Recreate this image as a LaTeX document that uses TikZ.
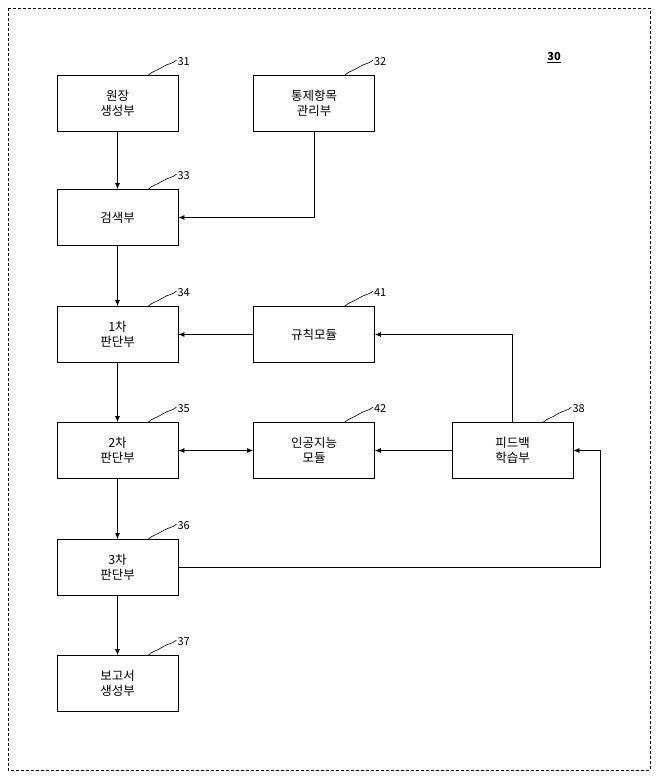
\documentclass[tikz,border=0pt]{standalone}
\usepackage{fontspec}
\setmainfont{Noto Sans CJK KR}
\usetikzlibrary{arrows.meta}
\begin{document}
\begin{tikzpicture}[x=1pt,y=-1pt,
  box/.style={draw,line width=0.8pt,minimum width=121pt,minimum height=56pt,align=center,font=\fontsize{12.5}{15}\selectfont,inner sep=0pt},
  arr/.style={-{Latex[length=6pt,width=5pt]},line width=0.8pt},
  darr/.style={{Latex[length=6pt,width=5pt]}-{Latex[length=6pt,width=5pt]},line width=0.8pt},
  num/.style={font=\fontsize{11}{13}\selectfont,anchor=west,inner sep=1pt}]
\useasboundingbox (0,0) rectangle (658,777);
\draw[dash pattern=on 3pt off 2pt,line width=0.6pt] (8,8) rectangle (650,770);
\node (b31) at (117.5,103.5) [box] {원장\\생성부};
\node (b32) at (314,103.5) [box] {통제항목\\관리부};
\node (b33) at (117.5,217.5) [box] {검색부};
\node (b34) at (117.5,334.5) [box] {1차\\판단부};
\node (b41) at (314,334.5) [box] {규칙모듈};
\node (b35) at (117.5,450.5) [box] {2차\\판단부};
\node (b42) at (314,450.5) [box] {인공지능\\모듈};
\node (b38) at (512.5,450.5) [box] {피드백\\학습부};
\node (b36) at (117.5,567.5) [box] {3차\\판단부};
\node (b37) at (117.5,683.5) [box] {보고서\\생성부};
\node[font=\bfseries\fontsize{11}{13}\selectfont,inner sep=1pt] (t30) at (554,58) {\underline{30}};
\foreach \b/\n in {b31/31,b32/32,b33/33,b34/34,b41/41,b35/35,b42/42,b38/38,b36/36,b37/37}{
  \coordinate (s\n) at ([xshift=-30pt]\b.north east);
  \draw[line width=0.6pt] (s\n) .. controls ++(4,-4) and ++(-6,4) .. ++(14,-8) .. controls ++(6,-4) and ++(-4,4) .. ++(14,-7) coordinate (e\n);
  \node[num] (n\n) at ([yshift=-1pt]e\n) {\n};
}
\draw[arr] (b31) -- (b33);
\draw[arr] (b32.south) |- (b33.east);
\draw[arr] (b33) -- (b34);
\draw[arr] (b34) -- (b35);
\draw[arr] (b35) -- (b36);
\draw[arr] (b36) -- (b37);
\draw[arr] (b41) -- (b34);
\draw[darr] (b35) -- (b42);
\draw[arr] (b38) -- (b42);
\draw[arr] (b38.north) |- (b41.east);
\coordinate (c1) at (600,567.5);
\draw[arr] (b36.east) -- (c1) |- (b38.east);
\end{tikzpicture}
\end{document}
